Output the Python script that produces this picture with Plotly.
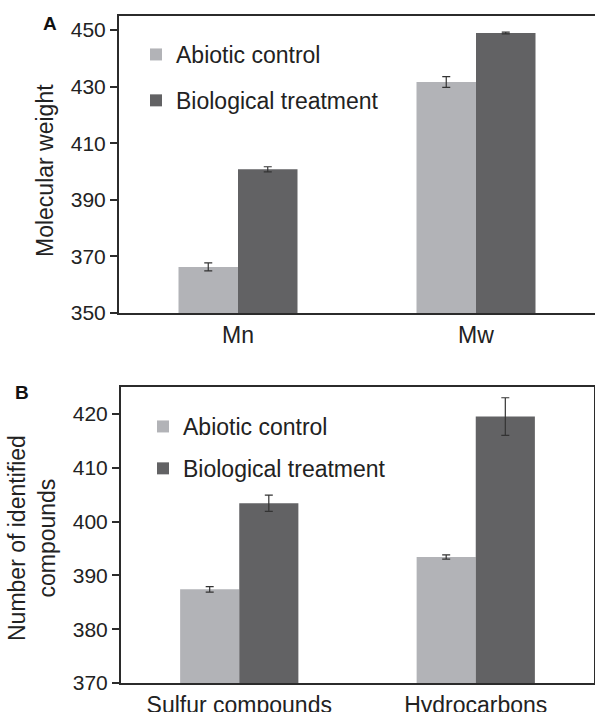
import plotly.graph_objects as go

# Panel A data
cats_a = ["Mn", "Mw"]
abiotic_a = [366.3, 431.7]
abiotic_a_err = [1.4, 1.9]
bio_a = [400.8, 449.0]
bio_a_err = [0.9, 0.3]

# Panel B data
cats_b = ["Sulfur compounds", "Hydrocarbons"]
abiotic_b = [387.4, 393.4]
abiotic_b_err = [0.5, 0.4]
bio_b = [403.4, 419.5]
bio_b_err = [1.5, 3.5]

series_names = ["Abiotic control", "Biological treatment"]
tick_a = [350, 370, 390, 410, 430, 450]
tick_b = [370, 380, 390, 400, 410, 420]

C_ABI = "#b2b3b7"
C_BIO = "#626264"
AX = "#2b2b2b"
FONT = "Liberation Sans, Arial, sans-serif"
W, H = 595, 712
BIG = 23
TICK = 21

def err(vals):
    return dict(type="data", array=vals, visible=True, color="#333333", thickness=1.2, width=4)

fig = go.Figure()
fig.add_trace(go.Bar(x=cats_a, y=abiotic_a, name=series_names[0], marker_color=C_ABI,
                     error_y=err(abiotic_a_err), xaxis="x", yaxis="y", legend="legend",
                     legendgroup="a1", marker_line_width=0))
fig.add_trace(go.Bar(x=cats_a, y=bio_a, name=series_names[1], marker_color=C_BIO,
                     error_y=err(bio_a_err), xaxis="x", yaxis="y", legend="legend",
                     legendgroup="a2", marker_line_width=0))
fig.add_trace(go.Bar(x=cats_b, y=abiotic_b, name=series_names[0], marker_color=C_ABI,
                     error_y=err(abiotic_b_err), xaxis="x2", yaxis="y2", legend="legend2",
                     legendgroup="b1", marker_line_width=0))
fig.add_trace(go.Bar(x=cats_b, y=bio_b, name=series_names[1], marker_color=C_BIO,
                     error_y=err(bio_b_err), xaxis="x2", yaxis="y2", legend="legend2",
                     legendgroup="b2", marker_line_width=0))

line_common = dict(showline=True, linecolor=AX, linewidth=2, showgrid=False, zeroline=False,
                   automargin=False)
xtickfont = dict(family=FONT, size=BIG, color="#222")
ytickfont = dict(family=FONT, size=TICK, color="#222")

fig.update_layout(
    width=W, height=H,
    margin=dict(l=0, r=0, t=0, b=0),
    paper_bgcolor="white", plot_bgcolor="white",
    barmode="group", bargap=0.5, bargroupgap=0,
    font=dict(family=FONT, color="#222"),
    xaxis=dict(domain=[119 / W, 1.0], anchor="y", mirror=True, ticks="",
               tickfont=xtickfont, **line_common),
    yaxis=dict(domain=[1 - 313 / H, 1 - 16 / H], anchor="x", range=[350, 455],
               tickvals=tick_a, ticks="outside", ticklen=7, tickwidth=1.5, tickcolor=AX,
               tickfont=ytickfont, **line_common),
    xaxis2=dict(domain=[121 / W, 594 / W], anchor="y2", mirror=True, ticks="",
                tickfont=xtickfont, **line_common),
    yaxis2=dict(domain=[1 - 683 / H, 1 - 387 / H], anchor="x2", range=[370, 425],
                tickvals=tick_b, ticks="outside", ticklen=7, tickwidth=1.5, tickcolor=AX,
                mirror=True, tickfont=ytickfont, **line_common),
    legend=dict(x=136 / W, y=1 - 33 / H, xanchor="left", yanchor="top", bgcolor="rgba(0,0,0,0)",
                font=dict(family=FONT, size=BIG, color="#222"), traceorder="grouped",
                tracegroupgap=13, itemclick=False),
    legend2=dict(x=143 / W, y=1 - 405 / H, xanchor="left", yanchor="top", bgcolor="rgba(0,0,0,0)",
                 font=dict(family=FONT, size=BIG, color="#222"), traceorder="grouped",
                 tracegroupgap=9, itemclick=False),
    showlegend=True,
    annotations=[
        dict(text="<b>A</b>", x=50 / W, y=1 - 24 / H, xref="paper", yref="paper", showarrow=False,
             xanchor="center", yanchor="middle", font=dict(family=FONT, size=19, color="#111")),
        dict(text="<b>B</b>", x=21.5 / W, y=1 - 392 / H, xref="paper", yref="paper", showarrow=False,
             xanchor="center", yanchor="middle", font=dict(family=FONT, size=19, color="#111")),
        dict(text="Molecular weight", x=45 / W, y=1 - 171 / H, xref="paper", yref="paper",
             showarrow=False, textangle=-90, xanchor="center", yanchor="middle",
             font=dict(family=FONT, size=BIG, color="#222")),
        dict(text="Number of identified<br>compounds", x=32 / W, y=1 - 538 / H, xref="paper",
             yref="paper", showarrow=False, textangle=-90, xanchor="center", yanchor="middle",
             font=dict(family=FONT, size=BIG, color="#222")),
    ],
)

fig.write_html("out.html", config={"displayModeBar": False},
               post_script="document.body.style.margin='0';document.body.style.padding='0';")
